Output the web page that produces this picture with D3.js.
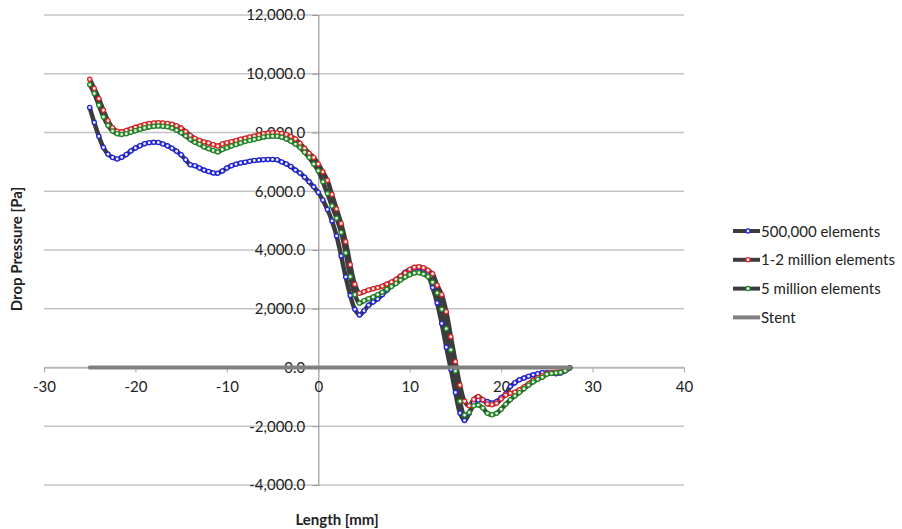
<!DOCTYPE html>
<html>
<head>
<meta charset="utf-8">
<script src="https://cdn.jsdelivr.net/npm/d3@7"></script>
<style>
  body { margin: 0; background: #fff; }
  text { font-family: Lato, 'Open Sans', sans-serif; fill: #222; }
</style>
</head>
<body>
<svg id="chart" width="902" height="529"></svg>
<script>
// Length positions [mm], every 0.5 mm from -25 to 27.5
const lengths = d3.range(-25, 27.51, 0.5);

const pressure500k = [
  8850, 8340, 7870, 7490, 7260, 7150, 7100, 7160, 7250, 7370,
  7470, 7550, 7620, 7655, 7665, 7660, 7610, 7545, 7465, 7360,
  7240, 7070, 6900, 6870, 6790, 6720, 6670, 6625, 6610, 6690,
  6790, 6870, 6920, 6960, 6990, 7020, 7045, 7060, 7075, 7085,
  7085, 7070, 7000, 6930, 6840, 6720, 6620, 6480, 6320, 6150,
  5960, 5700, 5380, 4990, 4480, 3800, 3080, 2450, 1980, 1790,
  1930, 2120, 2230, 2330, 2480, 2630, 2780, 2950, 3110, 3240,
  3330, 3380, 3390, 3350, 3150, 2720, 2200, 1500, 690, -60,
  -850, -1550, -1800, -1560, -1200, -1110, -1110, -1160, -1210, -1160,
  -1030, -900, -650, -520, -420, -360, -300, -250, -215, -180,
  -175, -180, -210, -190, -110, -20
];

const pressure1to2m = [
  9810, 9500, 9150, 8760, 8400, 8160, 8040, 8030, 8070, 8120,
  8175, 8225, 8275, 8305, 8325, 8335, 8325, 8305, 8280, 8230,
  8150, 8030, 7900, 7800, 7730, 7680, 7640, 7590, 7540, 7610,
  7650, 7685, 7730, 7770, 7805, 7845, 7880, 7915, 7955, 7980,
  7990, 7985, 7970, 7930, 7865, 7780, 7630, 7460, 7290, 7150,
  6930, 6660, 6370, 5890, 5400, 4900, 4280, 3500, 2830, 2530,
  2580, 2640, 2680, 2720, 2770, 2840, 2910, 3000, 3115, 3220,
  3340, 3410, 3430, 3395, 3310, 3190, 2800, 2480, 1900, 1050,
  200, -600, -1150, -1300, -1090, -990, -1100, -1240, -1270, -1220,
  -1070, -940, -880, -840, -760, -660, -550, -430, -350, -280,
  -200, -180, -160, -145, -100, -10
];

const pressure5m = [
  9630, 9330, 8930, 8530, 8240, 8050, 7960, 7935, 7960, 8010,
  8060, 8110, 8155, 8190, 8210, 8220, 8215, 8195, 8150, 8080,
  7990, 7880, 7760, 7665, 7600, 7510, 7450, 7390, 7340, 7420,
  7480, 7540, 7590, 7645, 7690, 7730, 7765, 7800, 7845, 7865,
  7870, 7870, 7840, 7780, 7700, 7600, 7490, 7330, 7150, 6930,
  6700, 6320, 5920, 5500, 5080, 4600, 3900, 3090, 2480, 2190,
  2270, 2340, 2400, 2480, 2560, 2660, 2760, 2860, 2975, 3080,
  3160, 3215, 3225, 3180, 3090, 2900, 2540, 1980, 1320, 600,
  -120, -1150, -1620, -1530, -1300, -1280, -1380, -1560, -1610, -1560,
  -1420, -1250, -1100, -970, -850, -720, -600, -490, -400, -330,
  -230, -200, -185, -170, -110, -10
];

const stentX = [-25, 27.5];
const stentY = [0, 0];

const seriesNames = ['500,000 elements', '1-2 million elements', '5 million elements', 'Stent'];
const markerColors = ['#1f1fe6', '#e82222', '#1e8c1e'];
const xTicks = [-30, -20, -10, 0, 10, 20, 30, 40];
const yTicks = [-4000, -2000, 0, 2000, 4000, 6000, 8000, 10000, 12000];

const svg = d3.select('#chart');
const x = d3.scaleLinear().domain([-30, 40]).range([44, 684]);
const y = d3.scaleLinear().domain([-4000, 12000]).range([485, 15]);

// plain hyphen for negatives, like the original
const hyphen = (s) => s.replace('\u2212', '-');

// gridlines
svg.append('g')
  .selectAll('line')
  .data(yTicks)
  .join('line')
  .attr('x1', x(-30))
  .attr('x2', x(40))
  .attr('y1', (d) => y(d))
  .attr('y2', (d) => y(d))
  .attr('stroke', '#c4c4c4')
  .attr('stroke-width', 1.3);

// y axis crossing at x = 0
const yAxis = svg.append('g')
  .attr('transform', `translate(${x(0)},0)`)
  .call(d3.axisLeft(y).tickValues(yTicks).tickSize(6).tickPadding(7)
    .tickFormat((d) => hyphen(d3.format(',.1f')(d))));
yAxis.select('.domain').attr('stroke', '#9a9a9a').attr('stroke-width', 1.2);
yAxis.selectAll('.tick line').attr('stroke', '#9a9a9a');
yAxis.selectAll('.tick text').style('font-size', '15px').attr('fill', '#222');

// x axis crossing at y = 0
const xAxis = svg.append('g')
  .attr('transform', `translate(0,${y(0)})`)
  .call(d3.axisBottom(x).tickValues(xTicks).tickSize(5).tickPadding(9)
    .tickSizeOuter(0).tickFormat((d) => hyphen(d3.format('d')(d))));
xAxis.select('.domain').attr('stroke', '#a8a8a8').attr('stroke-width', 1.2);
xAxis.selectAll('.tick line').attr('stroke', '#a8a8a8');
xAxis.selectAll('.tick text').style('font-size', '15px').attr('fill', '#222');

const series = [pressure500k, pressure1to2m, pressure5m].map((vals) =>
  lengths.map((l, i) => ({ x: l, y: vals[i] })));

const line = d3.line()
  .x((d) => x(d.x))
  .y((d) => y(d.y))
  .curve(d3.curveCatmullRom.alpha(0.5));

series.forEach((s) => {
  svg.append('path')
    .datum(s)
    .attr('d', line)
    .attr('fill', 'none')
    .attr('stroke', '#3c3c3c')
    .attr('stroke-width', 4.5)
    .attr('stroke-linejoin', 'round');
});

series.forEach((s, k) => {
  svg.append('g')
    .selectAll('circle')
    .data(s)
    .join('circle')
    .attr('cx', (d) => x(d.x))
    .attr('cy', (d) => y(d.y))
    .attr('r', 2.1)
    .attr('fill', '#e8eef0')
    .attr('stroke', markerColors[k])
    .attr('stroke-width', 1.3);
});

// stent
svg.append('path')
  .datum(stentX.map((v, i) => ({ x: v, y: stentY[i] })))
  .attr('d', d3.line().x((d) => x(d.x)).y((d) => y(d.y)))
  .attr('stroke', '#808080')
  .attr('stroke-width', 4)
  .attr('stroke-linecap', 'round');

// axis titles
svg.append('text')
  .attr('x', 337)
  .attr('y', 525)
  .attr('text-anchor', 'middle')
  .style('font-size', '15px')
  .style('font-weight', 'bold')
  .text('Length [mm]');

svg.append('text')
  .attr('transform', 'translate(22,249) rotate(-90)')
  .attr('text-anchor', 'middle')
  .style('font-size', '15px')
  .style('font-weight', 'bold')
  .text('Drop Pressure [Pa]');

// legend
const legend = svg.append('g').attr('transform', 'translate(733,231)');
seriesNames.forEach((name, i) => {
  const g = legend.append('g').attr('transform', `translate(0,${i * 28.8})`);
  g.append('line')
    .attr('x1', 0).attr('x2', 27)
    .attr('stroke', i < 3 ? '#3c3c3c' : '#808080')
    .attr('stroke-width', 4);
  if (i < 3) {
    g.append('circle')
      .attr('cx', 15).attr('r', 2.1)
      .attr('fill', '#e8eef0')
      .attr('stroke', markerColors[i])
      .attr('stroke-width', 1.3);
  }
  g.append('text')
    .attr('x', 28)
    .attr('y', 5.5)
    .style('font-size', '15px')
    .text(name);
});
</script>
</body>
</html>
